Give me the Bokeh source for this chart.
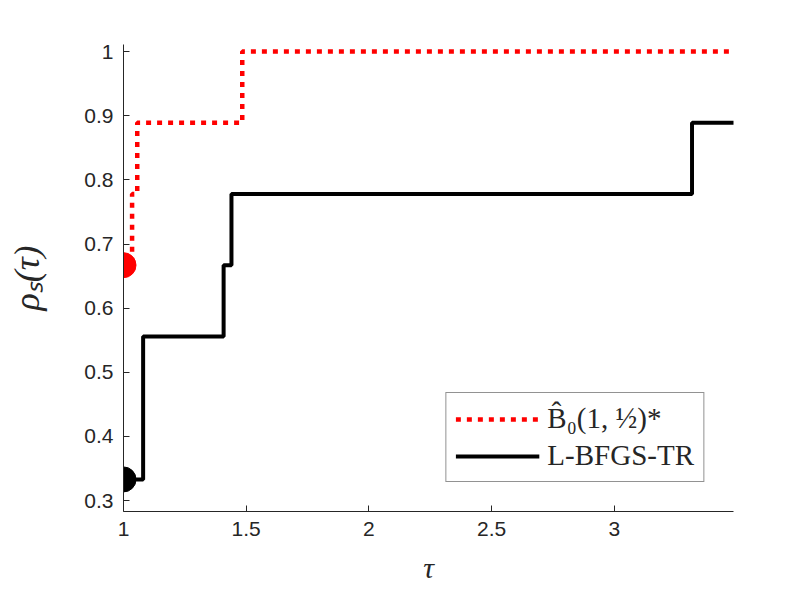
from bokeh.plotting import figure
from bokeh.models import FixedTicker, Legend, LegendItem, Range1d
from bokeh.embed import file_html
from bokeh.resources import INLINE

# Data
tau_red = [1.0, 1.035, 1.056, 1.484, 3.49]
rho_red = [0.667, 0.778, 0.889, 1.0, 1.0]
tau_black = [1.0, 1.08, 1.408, 1.44, 3.317, 3.49]
rho_black = [0.333, 0.556, 0.667, 0.778, 0.889, 0.889]
x_ticks = [1, 1.5, 2, 2.5, 3]
x_tick_labels = ["1", "1.5", "2", "2.5", "3"]
y_ticks = [0.3, 0.4, 0.5, 0.6, 0.7, 0.8, 0.9, 1.0]
y_tick_labels = ["0.3", "0.4", "0.5", "0.6", "0.7", "0.8", "0.9", "1"]
label_red = "B\u0302\u2080(1, \u00bd)*"
label_black = "L-BFGS-TR"

p = figure(width=802, height=599, output_backend="svg", toolbar_location=None,
           x_range=Range1d(1.0, 3.486), y_range=Range1d(0.283, 1.011),
           min_border_left=123, min_border_right=69, min_border_top=44, min_border_bottom=88)
p.outline_line_color = None
p.grid.visible = False
p.background_fill_color = "white"

axcol = "#262626"
for ax in (p.xaxis[0], p.yaxis[0]):
    ax.axis_line_color = axcol
    ax.major_tick_line_color = axcol
    ax.minor_tick_line_color = None
    ax.major_tick_in = 6
    ax.major_tick_out = 0
    ax.major_label_text_font = "Liberation Sans"
    ax.major_label_text_font_size = "21px"
    ax.major_label_text_color = axcol
    ax.axis_label_text_color = axcol
    ax.axis_label_text_font = "Liberation Serif"
    ax.axis_label_text_font_style = "italic"
    ax.axis_label_text_font_size = "30px"

p.xaxis.ticker = FixedTicker(ticks=x_ticks)
p.xaxis.major_label_overrides = {t: l for t, l in zip(x_ticks, x_tick_labels)}
p.yaxis.ticker = FixedTicker(ticks=y_ticks)
p.yaxis.major_label_overrides = {t: l for t, l in zip(y_ticks, y_tick_labels)}
p.xaxis.major_label_standoff = 10
p.yaxis.major_label_standoff = 10
p.xaxis.axis_label = "\u03c4"
p.yaxis.axis_label = "\u03c1\u209b(\u03c4)"
p.yaxis.axis_label_text_font_size = "36px"
p.xaxis.axis_label_standoff = 12
p.yaxis.axis_label_standoff = 34

r_red = p.step(tau_red, rho_red, mode="after", line_color="#ff0000", line_width=4.5,
               line_dash="5 6", line_cap="butt")
r_black = p.step(tau_black, rho_black, mode="after", line_color="black", line_width=4)
p.scatter([tau_red[0]], [rho_red[0]], size=25, color="#ff0000")
p.scatter([tau_black[0]], [rho_black[0]], size=25, color="black")

legend = Legend(items=[LegendItem(label=label_red, renderers=[r_red]),
                       LegendItem(label=label_black, renderers=[r_black])],
                location="bottom_right", margin=29)
legend.label_text_font = "Liberation Serif"
legend.label_text_font_size = "29px"
legend.label_text_color = axcol
legend.glyph_width = 84
legend.glyph_height = 30
legend.label_height = 30
legend.spacing = 4
legend.padding = 9
legend.label_standoff = 8
legend.border_line_color = axcol
legend.border_line_width = 1.2
legend.background_fill_color = "white"
p.add_layout(legend)

open("out.html", "w").write(file_html(p, INLINE))
